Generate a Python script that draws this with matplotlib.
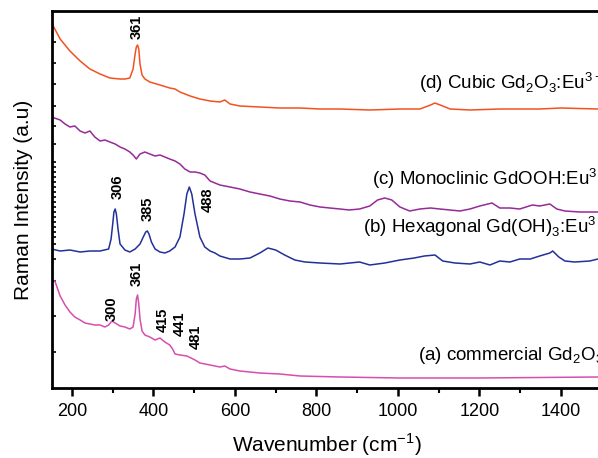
import numpy as np
import matplotlib.pyplot as plt
from matplotlib.ticker import MultipleLocator, NullFormatter

plt.rcParams['font.family'] = ['Liberation Sans', 'DejaVu Sans']
plt.rcParams['mathtext.fontset'] = 'custom'
plt.rcParams['mathtext.rm'] = 'Liberation Sans'

# Raman spectra, stacked with vertical offsets (a.u.)
wn_d = [150, 171, 195, 220, 244, 269, 293, 318, 330, 342, 350, 355, 358, 361, 364, 367,
        372, 379, 391, 416, 440, 453, 465, 490, 514, 539, 563, 575, 588, 612, 661, 710,
        760, 809, 858, 931, 1005, 1054, 1080, 1091, 1110, 1128, 1177, 1250, 1348, 1400, 1491]
int_d = [365, 349, 337, 327, 319, 314, 310, 309, 309, 310, 319, 334, 341, 343, 339, 324,
         313, 309, 306, 303, 300, 299, 296, 292, 289, 287, 286, 288, 284, 282, 281, 280,
         280, 279, 279, 278, 279, 279, 283, 285, 282, 279, 278, 279, 279, 280, 279]

wn_c = [150, 171, 183, 195, 207, 220, 232, 244, 256, 269, 281, 293, 306, 318, 330, 342,
        350, 358, 367, 379, 391, 404, 416, 428, 440, 453, 465, 477, 490, 502, 514, 526,
        539, 563, 588, 612, 637, 661, 686, 710, 735, 760, 784, 809, 833, 858, 880, 906,
        931, 950, 968, 985, 1005, 1029, 1054, 1080, 1103, 1128, 1152, 1177, 1201, 1231,
        1250, 1275, 1299, 1330, 1348, 1373, 1390, 1410, 1447, 1491]
int_c = [271, 268, 264, 261, 262, 257, 255, 257, 251, 247, 248, 246, 244, 241, 239, 236,
         233, 229, 234, 236, 234, 232, 233, 231, 229, 227, 224, 219, 216, 216, 215, 213,
         207, 203, 201, 199, 196, 194, 192, 189, 187, 186, 183, 181, 180, 179, 178, 179,
         182, 188, 190, 188, 181, 177, 179, 180, 179, 178, 177, 179, 182, 185,
         180, 180, 179, 183, 182, 184, 179, 177, 176, 176]

wn_b = [150, 171, 195, 220, 244, 269, 290, 296, 300, 303, 306, 309, 313, 318, 330, 342,
        355, 367, 375, 381, 385, 389, 395, 404, 416, 428, 440, 453, 465, 475, 482, 488,
        494, 502, 514, 526, 539, 551, 563, 588, 612, 637, 661, 681, 700, 722, 747, 772,
        809, 858, 906, 931, 968, 1005, 1040, 1065, 1091, 1110, 1140, 1177, 1201, 1226,
        1250, 1275, 1299, 1325, 1348, 1373, 1380, 1395, 1410, 1434, 1471, 1491]
int_b = [139, 137, 138, 136, 137, 137, 139, 149, 164, 176, 179, 174, 159, 144, 138, 136,
         139, 144, 151, 156, 157, 154, 146, 139, 136, 135, 137, 141, 151, 174, 194, 201,
         194, 174, 151, 141, 137, 135, 132, 129, 129, 130, 135, 140, 138, 133, 128, 126,
         125, 124, 126, 123, 125, 128, 130, 132, 133, 127, 125, 124, 126, 123,
         127, 126, 129, 129, 132, 135, 137, 131, 127, 126, 127, 129]

wn_a = [158, 171, 183, 195, 207, 220, 232, 244, 256, 269, 281, 290, 298, 306, 318, 330,
        342, 350, 355, 358, 361, 364, 367, 372, 379, 391, 404, 416, 428, 440, 447, 453,
        465, 482, 502, 514, 539, 563, 575, 588, 612, 661, 710, 760, 858, 1005, 1201, 1491]
int_a = [107, 92, 83, 76, 71, 68, 65, 64, 63, 63, 61, 63, 67, 65, 62, 61,
         59, 61, 74, 89, 93, 84, 69, 57, 53, 51, 48, 50, 46, 43, 39, 34,
         33, 32, 28, 25, 23, 21, 22, 19, 17, 15, 14, 12, 11, 10, 10, 11]

curve_names = ['(a) commercial Gd$_2$O$_3$',
               '(b) Hexagonal Gd(OH)$_3$:Eu$^{3+}$',
               '(c) Monoclinic GdOOH:Eu$^{3+}$',
               '(d) Cubic Gd$_2$O$_3$:Eu$^{3+}$']
colors = ['#d44fae', '#23309a', '#962a98', '#f2521f']

# peak labels: (text, x, y) in data units
peak_labels = [('361', 360, 349),
               ('306', 313, 189), ('385', 387, 167), ('488', 534, 176),
               ('300', 298, 67), ('361', 360, 102), ('415', 423, 56),
               ('441', 465, 52), ('481', 504, 39)]
name_pos = [(1049, 32), (914, 161), (936, 209), (1052, 305)]

fig = plt.figure(figsize=(5.98, 4.58), dpi=100)
ax = fig.add_axes([51.6 / 598, 70 / 458, 550 / 598, 377 / 458])

for wn, inten, c in zip([wn_a, wn_b, wn_c, wn_d], [int_a, int_b, int_c, int_d], colors):
    ax.plot(wn, inten, color=c, lw=1.1)

for txt, x, y in peak_labels:
    ax.text(x, y, txt, rotation=90, ha='center', va='bottom',
            fontsize=10.5, fontweight='bold')

for name, (x, y) in zip(curve_names, name_pos):
    ax.text(x, y, name, ha='left', va='center', fontsize=13.5, clip_on=False)

ax.set_xlim(150, 1500)
ax.set_ylim(0, 377)
ax.xaxis.set_major_locator(MultipleLocator(200))
ax.xaxis.set_minor_locator(MultipleLocator(100))

# unlabeled intensity ticks along the left spine
ytick_px = [43, 64, 85, 107, 127, 145, 163, 168, 173, 178, 183, 188, 193, 198, 203,
            208, 213, 218, 223, 228, 233, 238, 245, 260, 282, 317, 353]
ax.set_yticks([389 - p for p in ytick_px])
ax.yaxis.set_major_formatter(NullFormatter())
ax.tick_params(axis='y', direction='in', length=3, width=1.2)
ax.tick_params(axis='x', which='major', direction='out', length=6, width=1.8,
               labelsize=13, pad=5)
ax.tick_params(axis='x', which='minor', direction='out', length=3.5, width=1.5)

for side in ['left', 'bottom', 'top']:
    ax.spines[side].set_linewidth(2)
ax.spines['right'].set_visible(False)

ax.set_xlabel('Wavenumber (cm$^{-1}$)', fontsize=15, labelpad=8)
ax.set_ylabel('Raman Intensity (a.u)', fontsize=15, labelpad=10)

fig.savefig('out.png', dpi=100)
